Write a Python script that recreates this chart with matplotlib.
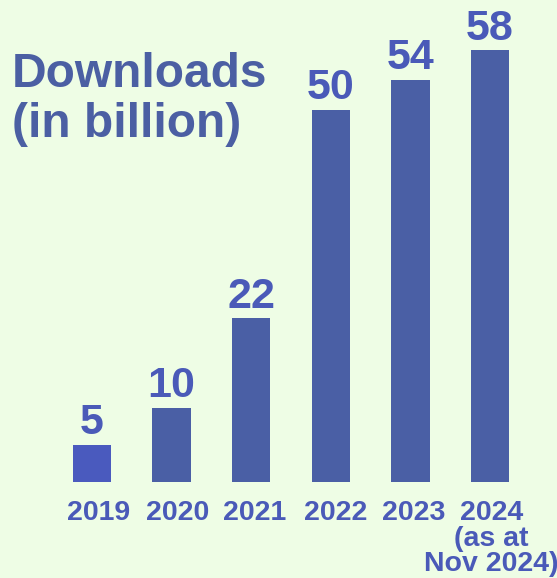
import matplotlib
matplotlib.use("Agg")
import matplotlib.pyplot as plt
import matplotlib.transforms as mtransforms

# data
years = ["2019", "2020", "2021", "2022", "2023", "2024\n(as at\nNov 2024)"]
downloads = [5, 10, 22, 50, 54, 58]

bg = "#eefde5"
bar_col = "#4a5fa5"
first_col = "#4a5abe"
txt_col = "#4a5ab8"
title_col = "#4b5fa3"

plt.rcParams["font.family"] = ["Liberation Sans", "DejaVu Sans"]
plt.rcParams["font.weight"] = "bold"

fig = plt.figure(figsize=(5.57, 5.78), dpi=100, facecolor=bg)
ax = fig.add_axes([52 / 557, 96 / 578, 478 / 557, 432 / 578])
ax.set_facecolor(bg)

colors = [first_col] + [bar_col] * (len(years) - 1)
x = list(range(len(years)))
ax.bar(x, downloads, width=0.48, color=colors)

for xi, v in zip(x, downloads):
    ax.annotate(str(v), (xi, v), xytext=(0, 7.5), textcoords="offset points",
                ha="center", va="baseline", fontsize=31, color=txt_col,
                fontweight="bold")

ax.set_xlim(-0.5, len(years) - 0.5)
ax.set_ylim(0, 58)
ax.set_xticks(x)
first_lines = [y.split("\n")[0] for y in years]
labels = ax.set_xticklabels(first_lines, fontsize=20.5, color=txt_col,
                            fontweight="bold")
ax.tick_params(axis="x", length=0, pad=13)

# the year labels sit a little right of the bar centres in the original
shift_px = [7, 6.5, 3.5, 4.5, 3, 1]
for lab, dx in zip(labels, shift_px):
    lab.set_transform(lab.get_transform() +
                      mtransforms.ScaledTranslation(dx / 100, 0, fig.dpi_scale_trans))

# extra lines of a label (the "as at" note) go under the year
for xi, y, dx in zip(x, years, shift_px):
    rest = y.split("\n")[1:]
    if rest:
        ax.annotate("\n".join(rest), (xi, 0), xycoords=("data", "axes fraction"),
                    xytext=(dx * 0.72, -31.5), textcoords="offset points",
                    ha="center", va="top", fontsize=20.5, color=txt_col,
                    fontweight="bold", linespacing=0.95, annotation_clip=False)

ax.set_yticks([])
for s in ax.spines.values():
    s.set_visible(False)

fig.text(12 / 557, 1 - 87 / 578, "Downloads", ha="left", va="baseline",
         fontsize=34.5, color=title_col, fontweight="bold")
fig.text(12 / 557, 1 - 137 / 578, "(in billion)", ha="left", va="baseline",
         fontsize=34.5, color=title_col, fontweight="bold")

fig.savefig("out.png", dpi=100, facecolor=bg)
